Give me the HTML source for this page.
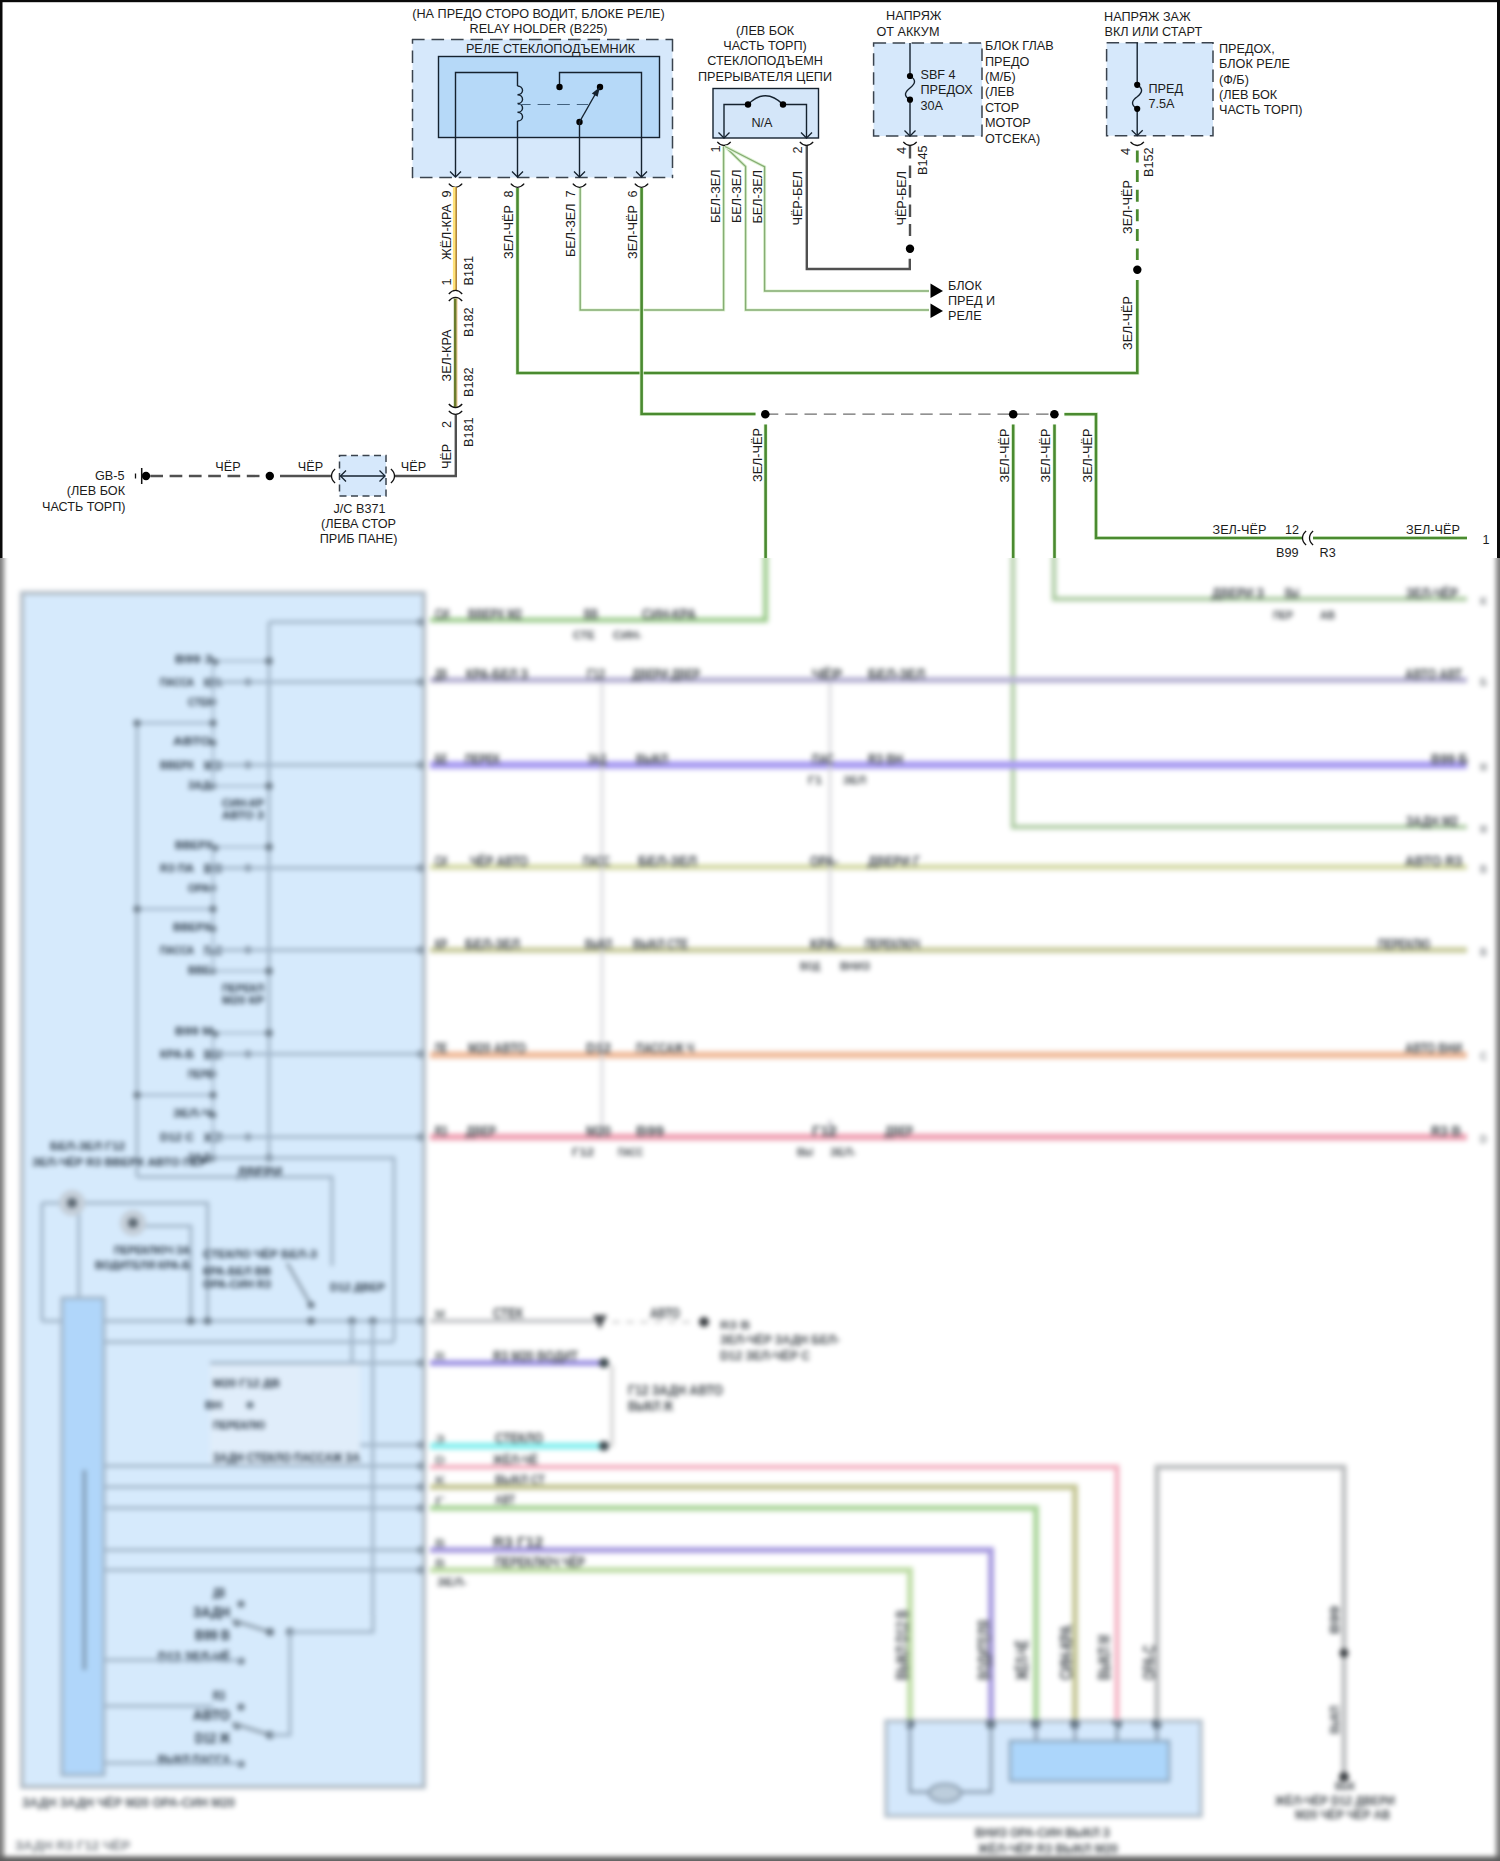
<!DOCTYPE html>
<html><head><meta charset="utf-8">
<style>
html,body{margin:0;padding:0;background:#fff;width:1500px;height:1861px;overflow:hidden}
#top{position:absolute;left:0;top:0;width:1500px;height:558px;overflow:hidden}
#bot{position:absolute;left:0;top:558px;width:1500px;height:1303px;overflow:hidden}
#bot svg{position:absolute;left:-20px;top:-40px;filter:blur(2.8px)}
text{font-family:"Liberation Sans", sans-serif}
</style></head><body>
<div id="bot"><svg width="1540" height="1363" viewBox="-20 518 1540 1363">
<rect x="-20" y="518" width="1540" height="1363" fill="#fff"/>
<rect x="-20" y="518" width="24" height="1363" fill="#7c7c7c"/>
<rect x="1496" y="518" width="30" height="1363" fill="#7c7c7c"/>
<rect x="-20" y="1856.5" width="1540" height="30" fill="#5c5c5c"/>
<rect x="22" y="593" width="402" height="1194" fill="#d6eafc" stroke="#b0bac4" stroke-width="4"/>
<path d="M269,622 V1158" stroke="#9fb3c6" stroke-width="3" fill="none" />
<path d="M269,622 H423" stroke="#9fb3c6" stroke-width="3" fill="none" />
<path d="M137,723 V1177" stroke="#9fb3c6" stroke-width="3" fill="none" />
<text x="175" y="663.0" font-size="11.6" font-weight="bold" fill="#2a3846" textLength="38" lengthAdjust="spacingAndGlyphs">B99 З</text>
<path d="M213,661 H269" stroke="#9fb3c6" stroke-width="2" fill="none" />
<circle cx="215" cy="662" r="3.4" fill="#6a7a88"/>
<circle cx="269" cy="661" r="3.8" fill="#6a7a88"/>
<text x="160" y="686.0" font-size="11.6" font-weight="bold" fill="#2a3846" textLength="34" lengthAdjust="spacingAndGlyphs">ПАССА</text>
<text x="204" y="686.5" font-size="13.0" font-weight="bold" fill="#2a3846" textLength="18" lengthAdjust="spacingAndGlyphs">КРА</text>
<circle cx="248" cy="682" r="3.4" fill="#6a7a88"/>
<path d="M213,682 H423" stroke="#9fb3c6" stroke-width="3" fill="none" />
<text x="188" y="706.0" font-size="11.6" font-weight="bold" fill="#2a3846" textLength="25" lengthAdjust="spacingAndGlyphs">СТЕК</text>
<circle cx="213" cy="702" r="3.4" fill="#6a7a88"/>
<path d="M213,662 V743" stroke="#9fb3c6" stroke-width="2" fill="none" />
<path d="M137,723 H213" stroke="#9fb3c6" stroke-width="2.5" fill="none" />
<circle cx="137" cy="723" r="3.6" fill="#6a7a88"/>
<circle cx="213" cy="723" r="3.6" fill="#6a7a88"/>
<text x="173" y="745.0" font-size="11.6" font-weight="bold" fill="#2a3846" textLength="38" lengthAdjust="spacingAndGlyphs">АВТО</text>
<circle cx="213" cy="743" r="3.4" fill="#6a7a88"/>
<text x="160" y="769.0" font-size="11.6" font-weight="bold" fill="#2a3846" textLength="34" lengthAdjust="spacingAndGlyphs">ВВЕРХ</text>
<text x="204" y="769.5" font-size="13.0" font-weight="bold" fill="#2a3846" textLength="18" lengthAdjust="spacingAndGlyphs">М20</text>
<circle cx="248" cy="765" r="3.4" fill="#6a7a88"/>
<path d="M213,765 H423" stroke="#9fb3c6" stroke-width="3" fill="none" />
<text x="188" y="789.0" font-size="11.6" font-weight="bold" fill="#2a3846" textLength="22" lengthAdjust="spacingAndGlyphs">ЗАД</text>
<circle cx="213" cy="786" r="3.4" fill="#6a7a88"/>
<path d="M213,786 H269" stroke="#9fb3c6" stroke-width="2" fill="none" />
<circle cx="269" cy="786" r="3.8" fill="#6a7a88"/>
<path d="M213,745 V786" stroke="#9fb3c6" stroke-width="2" fill="none" />
<text x="222" y="807.0" font-size="11.6" font-weight="bold" fill="#2a3846" textLength="42" lengthAdjust="spacingAndGlyphs">СИН-КР</text>
<text x="222" y="819.0" font-size="11.6" font-weight="bold" fill="#2a3846" textLength="42" lengthAdjust="spacingAndGlyphs">АВТО З</text>
<circle cx="421" cy="682" r="4" fill="#8d9dab"/>
<circle cx="421" cy="765" r="4" fill="#8d9dab"/>
<text x="175" y="849.0" font-size="11.6" font-weight="bold" fill="#2a3846" textLength="38" lengthAdjust="spacingAndGlyphs">ВВЕРХ</text>
<path d="M213,847 H269" stroke="#9fb3c6" stroke-width="2" fill="none" />
<circle cx="215" cy="848" r="3.4" fill="#6a7a88"/>
<circle cx="269" cy="847" r="3.8" fill="#6a7a88"/>
<text x="160" y="872.0" font-size="11.6" font-weight="bold" fill="#2a3846" textLength="34" lengthAdjust="spacingAndGlyphs">R3 ПА</text>
<text x="204" y="872.5" font-size="13.0" font-weight="bold" fill="#2a3846" textLength="18" lengthAdjust="spacingAndGlyphs">B99</text>
<circle cx="248" cy="868" r="3.4" fill="#6a7a88"/>
<path d="M213,868 H423" stroke="#9fb3c6" stroke-width="3" fill="none" />
<text x="188" y="892.0" font-size="11.6" font-weight="bold" fill="#2a3846" textLength="25" lengthAdjust="spacingAndGlyphs">ОРА-</text>
<circle cx="213" cy="888" r="3.4" fill="#6a7a88"/>
<path d="M213,848 V929" stroke="#9fb3c6" stroke-width="2" fill="none" />
<path d="M137,909 H213" stroke="#9fb3c6" stroke-width="2.5" fill="none" />
<circle cx="137" cy="909" r="3.6" fill="#6a7a88"/>
<circle cx="213" cy="909" r="3.6" fill="#6a7a88"/>
<text x="173" y="931.0" font-size="11.6" font-weight="bold" fill="#2a3846" textLength="38" lengthAdjust="spacingAndGlyphs">ВВЕРХ</text>
<circle cx="213" cy="929" r="3.4" fill="#6a7a88"/>
<text x="160" y="954.0" font-size="11.6" font-weight="bold" fill="#2a3846" textLength="34" lengthAdjust="spacingAndGlyphs">ПАССА</text>
<text x="204" y="954.5" font-size="13.0" font-weight="bold" fill="#2a3846" textLength="18" lengthAdjust="spacingAndGlyphs">ПАС</text>
<circle cx="248" cy="950" r="3.4" fill="#6a7a88"/>
<path d="M213,950 H423" stroke="#9fb3c6" stroke-width="3" fill="none" />
<text x="188" y="974.0" font-size="11.6" font-weight="bold" fill="#2a3846" textLength="22" lengthAdjust="spacingAndGlyphs">ВВЕ</text>
<circle cx="213" cy="971" r="3.4" fill="#6a7a88"/>
<path d="M213,971 H269" stroke="#9fb3c6" stroke-width="2" fill="none" />
<circle cx="269" cy="971" r="3.8" fill="#6a7a88"/>
<path d="M213,930 V971" stroke="#9fb3c6" stroke-width="2" fill="none" />
<text x="222" y="992.0" font-size="11.6" font-weight="bold" fill="#2a3846" textLength="42" lengthAdjust="spacingAndGlyphs">ПЕРЕКЛ</text>
<text x="222" y="1004.0" font-size="11.6" font-weight="bold" fill="#2a3846" textLength="42" lengthAdjust="spacingAndGlyphs">М20 КР</text>
<circle cx="421" cy="868" r="4" fill="#8d9dab"/>
<circle cx="421" cy="950" r="4" fill="#8d9dab"/>
<text x="175" y="1035.0" font-size="11.6" font-weight="bold" fill="#2a3846" textLength="38" lengthAdjust="spacingAndGlyphs">B99 М</text>
<path d="M213,1033 H269" stroke="#9fb3c6" stroke-width="2" fill="none" />
<circle cx="215" cy="1034" r="3.4" fill="#6a7a88"/>
<circle cx="269" cy="1033" r="3.8" fill="#6a7a88"/>
<text x="160" y="1058.0" font-size="11.6" font-weight="bold" fill="#2a3846" textLength="34" lengthAdjust="spacingAndGlyphs">КРА-Б</text>
<text x="204" y="1058.5" font-size="13.0" font-weight="bold" fill="#2a3846" textLength="18" lengthAdjust="spacingAndGlyphs">ВНИ</text>
<circle cx="248" cy="1054" r="3.4" fill="#6a7a88"/>
<path d="M213,1054 H423" stroke="#9fb3c6" stroke-width="3" fill="none" />
<text x="188" y="1078.0" font-size="11.6" font-weight="bold" fill="#2a3846" textLength="25" lengthAdjust="spacingAndGlyphs">ПЕРЕ</text>
<circle cx="213" cy="1074" r="3.4" fill="#6a7a88"/>
<path d="M213,1034 V1115" stroke="#9fb3c6" stroke-width="2" fill="none" />
<path d="M137,1095 H213" stroke="#9fb3c6" stroke-width="2.5" fill="none" />
<circle cx="137" cy="1095" r="3.6" fill="#6a7a88"/>
<circle cx="213" cy="1095" r="3.6" fill="#6a7a88"/>
<text x="173" y="1117.0" font-size="11.6" font-weight="bold" fill="#2a3846" textLength="38" lengthAdjust="spacingAndGlyphs">ЗЕЛ-Ч</text>
<circle cx="213" cy="1115" r="3.4" fill="#6a7a88"/>
<text x="160" y="1141.0" font-size="11.6" font-weight="bold" fill="#2a3846" textLength="34" lengthAdjust="spacingAndGlyphs">D12 С</text>
<text x="204" y="1141.5" font-size="13.0" font-weight="bold" fill="#2a3846" textLength="18" lengthAdjust="spacingAndGlyphs">ЖЁЛ</text>
<circle cx="248" cy="1137" r="3.4" fill="#6a7a88"/>
<path d="M213,1137 H423" stroke="#9fb3c6" stroke-width="3" fill="none" />
<text x="188" y="1161.0" font-size="11.6" font-weight="bold" fill="#2a3846" textLength="22" lengthAdjust="spacingAndGlyphs">ЗАД</text>
<circle cx="213" cy="1158" r="3.4" fill="#6a7a88"/>
<path d="M213,1158 H269" stroke="#9fb3c6" stroke-width="2" fill="none" />
<circle cx="269" cy="1158" r="3.8" fill="#6a7a88"/>
<path d="M213,1117 V1158" stroke="#9fb3c6" stroke-width="2" fill="none" />
<circle cx="421" cy="1054" r="4" fill="#8d9dab"/>
<circle cx="421" cy="1137" r="4" fill="#8d9dab"/>
<circle cx="421" cy="622" r="4" fill="#8d9dab"/>
<text x="50" y="1149.5" font-size="10.2" font-weight="bold" fill="#2a3846" textLength="75" lengthAdjust="spacingAndGlyphs">БЕЛ-ЗЕЛ Г12</text>
<text x="32" y="1165.5" font-size="10.2" font-weight="bold" fill="#2a3846" textLength="175" lengthAdjust="spacingAndGlyphs">ЗЕЛ-ЧЁР R3 ВВЕРХ АВТО ПЕР</text>
<path d="M213,1158 H394 V1341" stroke="#9fb3c6" stroke-width="3" fill="none" />
<text x="237" y="1177.0" font-size="14.5" font-weight="bold" fill="#2a3846" textLength="45" lengthAdjust="spacingAndGlyphs">ДВЕРИ</text>
<path d="M137,1177 H332 V1266" stroke="#9fb3c6" stroke-width="3" fill="none" />
<path d="M42,1203 H207.6 V1321" stroke="#9fb3c6" stroke-width="3" fill="none" />
<path d="M133,1226 H190.8 V1321" stroke="#9fb3c6" stroke-width="3" fill="none" />
<path d="M42,1203 V1321" stroke="#9fb3c6" stroke-width="3" fill="none" />
<path d="M78.8,1203 V1298" stroke="#9fb3c6" stroke-width="3" fill="none" />
<circle cx="72" cy="1203" r="13" fill="#c4ced8"/>
<circle cx="72" cy="1203" r="5" fill="#5a6670"/>
<circle cx="133" cy="1223" r="13" fill="#c4ced8"/>
<circle cx="133" cy="1223" r="5" fill="#5a6670"/>
<text x="114" y="1254.0" font-size="11.6" font-weight="bold" fill="#2a3846" textLength="76" lengthAdjust="spacingAndGlyphs">ПЕРЕКЛЮЧ ЗА</text>
<text x="95" y="1269.0" font-size="11.6" font-weight="bold" fill="#2a3846" textLength="95" lengthAdjust="spacingAndGlyphs">ВОДИТЕЛЯ КРА-Б</text>
<text x="203" y="1258.0" font-size="11.6" font-weight="bold" fill="#2a3846" textLength="114" lengthAdjust="spacingAndGlyphs">СТЕКЛО ЧЁР БЕЛ-З</text>
<text x="203" y="1275.0" font-size="11.6" font-weight="bold" fill="#2a3846" textLength="68" lengthAdjust="spacingAndGlyphs">КРА-БЕЛ ВВ</text>
<text x="203" y="1288.0" font-size="11.6" font-weight="bold" fill="#2a3846" textLength="68" lengthAdjust="spacingAndGlyphs">ОРА-СИН R3</text>
<path d="M287,1263 L311,1305" stroke="#7a8a98" stroke-width="2.5" fill="none" />
<circle cx="311" cy="1305" r="3.6" fill="#6a7a88"/>
<text x="330" y="1291.0" font-size="11.6" font-weight="bold" fill="#2a3846" textLength="55" lengthAdjust="spacingAndGlyphs">D12 ДВЕР</text>
<path d="M42,1321 H423" stroke="#9fb3c6" stroke-width="3" fill="none" />
<circle cx="190.8" cy="1321" r="3.8" fill="#6a7a88"/>
<circle cx="207.6" cy="1321" r="3.8" fill="#6a7a88"/>
<circle cx="311" cy="1321" r="3.8" fill="#6a7a88"/>
<circle cx="352" cy="1321" r="3.8" fill="#6a7a88"/>
<circle cx="372.8" cy="1321" r="3.8" fill="#6a7a88"/>
<path d="M352,1321 V1404 H210" stroke="#9fb3c6" stroke-width="3" fill="none" />
<path d="M372.8,1321 V1615" stroke="#9fb3c6" stroke-width="3" fill="none" />
<path d="M104,1342 H394" stroke="#9fb3c6" stroke-width="3" fill="none" />
<rect x="62" y="1298" width="42" height="477" fill="#b0d6fa" stroke="#9fb2c4" stroke-width="3"/>
<path d="M84.4,1470 V1670" stroke="#7e98b0" stroke-width="3.5" fill="none" />
<rect x="210" y="1363" width="150" height="102" fill="#e0edfa"/>
<path d="M210,1363 H423" stroke="#9fb3c6" stroke-width="3" fill="none" />
<text x="213" y="1387.0" font-size="11.6" font-weight="bold" fill="#2a3846" textLength="67" lengthAdjust="spacingAndGlyphs">М20 Г12 ДВ</text>
<text x="205" y="1409.0" font-size="11.6" font-weight="bold" fill="#2a3846" textLength="17" lengthAdjust="spacingAndGlyphs">ВН</text>
<circle cx="250" cy="1405" r="3.6" fill="#6a7a88"/>
<text x="213" y="1429.0" font-size="11.6" font-weight="bold" fill="#2a3846" textLength="52" lengthAdjust="spacingAndGlyphs">ПЕРЕКЛЮ</text>
<text x="213" y="1461.5" font-size="13.0" font-weight="bold" fill="#2a3846" textLength="147" lengthAdjust="spacingAndGlyphs">ЗАДН СТЕКЛО ПАССАЖ ЗА</text>
<path d="M360,1445 H423" stroke="#9fb3c6" stroke-width="3" fill="none" />
<path d="M104,1466 H423" stroke="#9fb3c6" stroke-width="3" fill="none" />
<path d="M104,1487 H423" stroke="#9fb3c6" stroke-width="3" fill="none" />
<path d="M104,1508 H423" stroke="#9fb3c6" stroke-width="3" fill="none" />
<path d="M104,1550 H423" stroke="#9fb3c6" stroke-width="3" fill="none" />
<path d="M104,1570 H423" stroke="#9fb3c6" stroke-width="3" fill="none" />
<circle cx="421" cy="1363" r="4" fill="#8d9dab"/>
<circle cx="421" cy="1445" r="4" fill="#8d9dab"/>
<circle cx="421" cy="1466" r="4" fill="#8d9dab"/>
<circle cx="421" cy="1487" r="4" fill="#8d9dab"/>
<circle cx="421" cy="1508" r="4" fill="#8d9dab"/>
<circle cx="421" cy="1550" r="4" fill="#8d9dab"/>
<circle cx="421" cy="1570" r="4" fill="#8d9dab"/>
<circle cx="421" cy="1321" r="4" fill="#8d9dab"/>
<text x="213" y="1596.5" font-size="13.0" font-weight="bold" fill="#2a3846" textLength="12" lengthAdjust="spacingAndGlyphs">ДВ</text>
<circle cx="241" cy="1604" r="3.6" fill="#6a7a88"/>
<text x="193" y="1617.0" font-size="14.5" font-weight="bold" fill="#2a3846" textLength="37" lengthAdjust="spacingAndGlyphs">ЗАДН</text>
<text x="195" y="1640.0" font-size="14.5" font-weight="bold" fill="#2a3846" textLength="35" lengthAdjust="spacingAndGlyphs">B99 В</text>
<circle cx="237" cy="1623" r="3.6" fill="#6a7a88"/>
<text x="158" y="1662.0" font-size="14.5" font-weight="bold" fill="#2a3846" textLength="72" lengthAdjust="spacingAndGlyphs">D12 ЗЕЛ-ЧЁ</text>
<circle cx="241" cy="1661" r="3.6" fill="#6a7a88"/>
<path d="M232,1620 L270,1632" stroke="#8a9aa8" stroke-width="3" fill="none" />
<text x="213" y="1699.5" font-size="13.0" font-weight="bold" fill="#2a3846" textLength="12" lengthAdjust="spacingAndGlyphs">R3</text>
<circle cx="241" cy="1707" r="3.6" fill="#6a7a88"/>
<text x="193" y="1720.0" font-size="14.5" font-weight="bold" fill="#2a3846" textLength="37" lengthAdjust="spacingAndGlyphs">АВТО</text>
<text x="195" y="1743.0" font-size="14.5" font-weight="bold" fill="#2a3846" textLength="35" lengthAdjust="spacingAndGlyphs">D12 Ж</text>
<circle cx="237" cy="1726" r="3.6" fill="#6a7a88"/>
<text x="158" y="1765.0" font-size="14.5" font-weight="bold" fill="#2a3846" textLength="72" lengthAdjust="spacingAndGlyphs">ВЫКЛ ПАССА</text>
<circle cx="241" cy="1764" r="3.6" fill="#6a7a88"/>
<path d="M232,1723 L270,1735" stroke="#8a9aa8" stroke-width="3" fill="none" />
<path d="M104,1660 H241" stroke="#9fb3c6" stroke-width="3" fill="none" />
<path d="M104,1706 H213" stroke="#9fb3c6" stroke-width="3" fill="none" />
<path d="M104,1763 H241" stroke="#9fb3c6" stroke-width="3" fill="none" />
<circle cx="270" cy="1632" r="4" fill="#6a7a88"/>
<circle cx="290" cy="1632" r="4" fill="#6a7a88"/>
<circle cx="270" cy="1735" r="4" fill="#6a7a88"/>
<path d="M290,1632 H373 V1615" stroke="#9fb3c6" stroke-width="3" fill="none" />
<path d="M290,1632 V1735 H270" stroke="#9fb3c6" stroke-width="3" fill="none" />
<text x="22" y="1806.5" font-size="13.0" font-weight="bold" fill="#4a525a" textLength="213" lengthAdjust="spacingAndGlyphs">ЗАДН ЗАДН ЧЁР М20 ОРА-СИН М20</text>
<text x="15" y="1849.5" font-size="13.0" font-weight="bold" fill="#7c8288" textLength="115" lengthAdjust="spacingAndGlyphs">ЗАДН R3 Г12 ЧЁР</text>
<path d="M765.6,518 V620 H430" stroke="#9ccc8c" stroke-width="5" fill="none" />
<path d="M1054,518 V599 H1467" stroke="#aacaa0" stroke-width="4.5" fill="none" />
<path d="M1013,518 V827 H1467" stroke="#aecca4" stroke-width="4.5" fill="none" />
<path d="M430,680 H1467" stroke="#b8b4d4" stroke-width="6" fill="none" />
<path d="M430,765 H1467" stroke="#aa9ef2" stroke-width="8" fill="none" />
<path d="M430,867 H1467" stroke="#d6dbaa" stroke-width="6" fill="none" />
<path d="M430,950 H1467" stroke="#cacda0" stroke-width="6" fill="none" />
<path d="M430,1055 H1467" stroke="#f0bc9c" stroke-width="7" fill="none" />
<path d="M430,1137 H1467" stroke="#f0a4b6" stroke-width="7" fill="none" />
<path d="M602,683 V1137" stroke="#d2d2d8" stroke-width="2.5" fill="none" />
<path d="M830,683 V950" stroke="#d2d2d8" stroke-width="2.5" fill="none" />
<path d="M830,1120 V1137" stroke="#b8b8c0" stroke-width="2.5" fill="none" />
<text x="435" y="619.0" font-size="14.5" font-weight="bold" fill="#454b50" textLength="14" lengthAdjust="spacingAndGlyphs">СИ</text>
<text x="468" y="619.0" font-size="14.5" font-weight="bold" fill="#454b50" textLength="54" lengthAdjust="spacingAndGlyphs">ВВЕРХ М2</text>
<text x="584" y="619.0" font-size="14.5" font-weight="bold" fill="#454b50" textLength="14" lengthAdjust="spacingAndGlyphs">ВВ</text>
<text x="642" y="619.0" font-size="14.5" font-weight="bold" fill="#454b50" textLength="54" lengthAdjust="spacingAndGlyphs">СИН-КРА</text>
<text x="573" y="639.0" font-size="11.6" font-weight="bold" fill="#454b50" textLength="22" lengthAdjust="spacingAndGlyphs">СТЕ</text>
<text x="613" y="639.0" font-size="11.6" font-weight="bold" fill="#454b50" textLength="29" lengthAdjust="spacingAndGlyphs">СИН-</text>
<text x="435" y="679.0" font-size="14.5" font-weight="bold" fill="#454b50" textLength="12" lengthAdjust="spacingAndGlyphs">ДВ</text>
<text x="466" y="679.0" font-size="14.5" font-weight="bold" fill="#454b50" textLength="62" lengthAdjust="spacingAndGlyphs">КРА-БЕЛ З</text>
<text x="587" y="679.0" font-size="14.5" font-weight="bold" fill="#454b50" textLength="18" lengthAdjust="spacingAndGlyphs">Г12</text>
<text x="632" y="679.0" font-size="14.5" font-weight="bold" fill="#454b50" textLength="68" lengthAdjust="spacingAndGlyphs">ДВЕРИ ДВЕР</text>
<text x="812" y="679.0" font-size="14.5" font-weight="bold" fill="#454b50" textLength="30" lengthAdjust="spacingAndGlyphs">ЧЁР</text>
<text x="868" y="679.0" font-size="14.5" font-weight="bold" fill="#454b50" textLength="57" lengthAdjust="spacingAndGlyphs">БЕЛ-ЗЕЛ</text>
<text x="1405" y="679.0" font-size="14.5" font-weight="bold" fill="#454b50" textLength="57" lengthAdjust="spacingAndGlyphs">АВТО АВТ</text>
<text x="435" y="764.0" font-size="14.5" font-weight="bold" fill="#454b50" textLength="12" lengthAdjust="spacingAndGlyphs">БЕ</text>
<text x="465" y="764.0" font-size="14.5" font-weight="bold" fill="#454b50" textLength="35" lengthAdjust="spacingAndGlyphs">ПЕРЕК</text>
<text x="588" y="764.0" font-size="14.5" font-weight="bold" fill="#454b50" textLength="18" lengthAdjust="spacingAndGlyphs">ЗАД</text>
<text x="636" y="764.0" font-size="14.5" font-weight="bold" fill="#454b50" textLength="32" lengthAdjust="spacingAndGlyphs">ВЫКЛ</text>
<text x="812" y="764.0" font-size="14.5" font-weight="bold" fill="#454b50" textLength="22" lengthAdjust="spacingAndGlyphs">ПАС</text>
<text x="868" y="764.0" font-size="14.5" font-weight="bold" fill="#454b50" textLength="35" lengthAdjust="spacingAndGlyphs">R3 ВН</text>
<text x="1431" y="764.0" font-size="14.5" font-weight="bold" fill="#454b50" textLength="37" lengthAdjust="spacingAndGlyphs">B99 Б</text>
<text x="808" y="784.0" font-size="11.6" font-weight="bold" fill="#454b50" textLength="14" lengthAdjust="spacingAndGlyphs">Г1</text>
<text x="843" y="784.0" font-size="11.6" font-weight="bold" fill="#454b50" textLength="23" lengthAdjust="spacingAndGlyphs">ЗЕЛ</text>
<text x="435" y="866.0" font-size="14.5" font-weight="bold" fill="#454b50" textLength="12" lengthAdjust="spacingAndGlyphs">СИ</text>
<text x="470" y="866.0" font-size="14.5" font-weight="bold" fill="#454b50" textLength="58" lengthAdjust="spacingAndGlyphs">ЧЁР АВТО</text>
<text x="583" y="866.0" font-size="14.5" font-weight="bold" fill="#454b50" textLength="27" lengthAdjust="spacingAndGlyphs">ПАСС</text>
<text x="638" y="866.0" font-size="14.5" font-weight="bold" fill="#454b50" textLength="59" lengthAdjust="spacingAndGlyphs">БЕЛ-ЗЕЛ</text>
<text x="810" y="866.0" font-size="14.5" font-weight="bold" fill="#454b50" textLength="28" lengthAdjust="spacingAndGlyphs">ОРА-</text>
<text x="868" y="866.0" font-size="14.5" font-weight="bold" fill="#454b50" textLength="52" lengthAdjust="spacingAndGlyphs">ДВЕРИ Г</text>
<text x="1405" y="866.0" font-size="14.5" font-weight="bold" fill="#454b50" textLength="57" lengthAdjust="spacingAndGlyphs">АВТО R3</text>
<text x="435" y="949.0" font-size="14.5" font-weight="bold" fill="#454b50" textLength="12" lengthAdjust="spacingAndGlyphs">КР</text>
<text x="465" y="949.0" font-size="14.5" font-weight="bold" fill="#454b50" textLength="55" lengthAdjust="spacingAndGlyphs">БЕЛ-ЗЕЛ</text>
<text x="585" y="949.0" font-size="14.5" font-weight="bold" fill="#454b50" textLength="27" lengthAdjust="spacingAndGlyphs">ВЫКЛ</text>
<text x="633" y="949.0" font-size="14.5" font-weight="bold" fill="#454b50" textLength="55" lengthAdjust="spacingAndGlyphs">ВЫКЛ СТЕ</text>
<text x="810" y="949.0" font-size="14.5" font-weight="bold" fill="#454b50" textLength="30" lengthAdjust="spacingAndGlyphs">КРА-</text>
<text x="865" y="949.0" font-size="14.5" font-weight="bold" fill="#454b50" textLength="55" lengthAdjust="spacingAndGlyphs">ПЕРЕКЛЮЧ</text>
<text x="1378" y="949.0" font-size="14.5" font-weight="bold" fill="#454b50" textLength="52" lengthAdjust="spacingAndGlyphs">ПЕРЕКЛЮ</text>
<text x="800" y="970.0" font-size="11.6" font-weight="bold" fill="#454b50" textLength="20" lengthAdjust="spacingAndGlyphs">ВОД</text>
<text x="840" y="970.0" font-size="11.6" font-weight="bold" fill="#454b50" textLength="30" lengthAdjust="spacingAndGlyphs">ВНИЗ</text>
<text x="435" y="1053.0" font-size="14.5" font-weight="bold" fill="#454b50" textLength="12" lengthAdjust="spacingAndGlyphs">ПЕ</text>
<text x="468" y="1053.0" font-size="14.5" font-weight="bold" fill="#454b50" textLength="58" lengthAdjust="spacingAndGlyphs">М20 АВТО</text>
<text x="586" y="1053.0" font-size="14.5" font-weight="bold" fill="#454b50" textLength="25" lengthAdjust="spacingAndGlyphs">D12</text>
<text x="636" y="1053.0" font-size="14.5" font-weight="bold" fill="#454b50" textLength="58" lengthAdjust="spacingAndGlyphs">ПАССАЖ Ч</text>
<text x="1405" y="1053.0" font-size="14.5" font-weight="bold" fill="#454b50" textLength="57" lengthAdjust="spacingAndGlyphs">АВТО ВНИ</text>
<text x="435" y="1136.0" font-size="14.5" font-weight="bold" fill="#454b50" textLength="12" lengthAdjust="spacingAndGlyphs">R3</text>
<text x="466" y="1136.0" font-size="14.5" font-weight="bold" fill="#454b50" textLength="30" lengthAdjust="spacingAndGlyphs">ДВЕР</text>
<text x="586" y="1136.0" font-size="14.5" font-weight="bold" fill="#454b50" textLength="25" lengthAdjust="spacingAndGlyphs">М20</text>
<text x="636" y="1136.0" font-size="14.5" font-weight="bold" fill="#454b50" textLength="28" lengthAdjust="spacingAndGlyphs">B99</text>
<text x="812" y="1136.0" font-size="14.5" font-weight="bold" fill="#454b50" textLength="25" lengthAdjust="spacingAndGlyphs">Г12</text>
<text x="885" y="1136.0" font-size="14.5" font-weight="bold" fill="#454b50" textLength="28" lengthAdjust="spacingAndGlyphs">ДВЕР</text>
<text x="1431" y="1136.0" font-size="14.5" font-weight="bold" fill="#454b50" textLength="30" lengthAdjust="spacingAndGlyphs">R3 В</text>
<text x="572" y="1156.0" font-size="11.6" font-weight="bold" fill="#454b50" textLength="22" lengthAdjust="spacingAndGlyphs">Г12</text>
<text x="618" y="1156.0" font-size="11.6" font-weight="bold" fill="#454b50" textLength="25" lengthAdjust="spacingAndGlyphs">ПАСС</text>
<text x="797" y="1156.0" font-size="11.6" font-weight="bold" fill="#454b50" textLength="16" lengthAdjust="spacingAndGlyphs">ВЫ</text>
<text x="830" y="1156.0" font-size="11.6" font-weight="bold" fill="#454b50" textLength="26" lengthAdjust="spacingAndGlyphs">ЗЕЛ-</text>
<text x="1212" y="598.0" font-size="14.5" font-weight="bold" fill="#454b50" textLength="52" lengthAdjust="spacingAndGlyphs">ДВЕРИ З</text>
<text x="1285" y="598.0" font-size="14.5" font-weight="bold" fill="#454b50" textLength="14" lengthAdjust="spacingAndGlyphs">ВЫ</text>
<text x="1406" y="598.0" font-size="14.5" font-weight="bold" fill="#454b50" textLength="52" lengthAdjust="spacingAndGlyphs">ЗЕЛ-ЧЁР</text>
<text x="1273" y="619.0" font-size="11.6" font-weight="bold" fill="#454b50" textLength="20" lengthAdjust="spacingAndGlyphs">ПЕР</text>
<text x="1320" y="619.0" font-size="11.6" font-weight="bold" fill="#454b50" textLength="15" lengthAdjust="spacingAndGlyphs">АВ</text>
<text x="1406" y="826.0" font-size="14.5" font-weight="bold" fill="#454b50" textLength="52" lengthAdjust="spacingAndGlyphs">ЗАДН М2</text>
<text x="1480" y="605.0" font-size="11.6" font-weight="bold" fill="#8a8e92" textLength="7" lengthAdjust="spacingAndGlyphs">К</text>
<text x="1480" y="686.0" font-size="11.6" font-weight="bold" fill="#8a8e92" textLength="7" lengthAdjust="spacingAndGlyphs">Б</text>
<text x="1480" y="771.0" font-size="11.6" font-weight="bold" fill="#8a8e92" textLength="7" lengthAdjust="spacingAndGlyphs">М</text>
<text x="1480" y="833.0" font-size="11.6" font-weight="bold" fill="#8a8e92" textLength="7" lengthAdjust="spacingAndGlyphs">М</text>
<text x="1480" y="873.0" font-size="11.6" font-weight="bold" fill="#8a8e92" textLength="7" lengthAdjust="spacingAndGlyphs">В</text>
<text x="1480" y="956.0" font-size="11.6" font-weight="bold" fill="#8a8e92" textLength="7" lengthAdjust="spacingAndGlyphs">В</text>
<text x="1480" y="1060.0" font-size="11.6" font-weight="bold" fill="#8a8e92" textLength="7" lengthAdjust="spacingAndGlyphs">С</text>
<text x="1480" y="1143.0" font-size="11.6" font-weight="bold" fill="#8a8e92" textLength="7" lengthAdjust="spacingAndGlyphs">D</text>
<path d="M430,1321 H600" stroke="#bfc1c4" stroke-width="4" fill="none" />
<path d="M593,1315 L607,1315 L600,1329 Z" fill="#4a4e52"/>
<path d="M612,1322 H690" stroke="#c8c8c8" stroke-width="2" fill="none" stroke-dasharray="8 6"/>
<circle cx="704" cy="1322" r="5" fill="#3a3e42"/>
<text x="493" y="1318.0" font-size="14.5" font-weight="bold" fill="#454b50" textLength="30" lengthAdjust="spacingAndGlyphs">СТЕК</text>
<text x="650" y="1318.0" font-size="14.5" font-weight="bold" fill="#454b50" textLength="30" lengthAdjust="spacingAndGlyphs">АВТО</text>
<text x="720" y="1329.0" font-size="11.6" font-weight="bold" fill="#454b50" textLength="30" lengthAdjust="spacingAndGlyphs">R3 В</text>
<text x="720" y="1343.5" font-size="13.0" font-weight="bold" fill="#454b50" textLength="120" lengthAdjust="spacingAndGlyphs">ЗЕЛ-ЧЁР ЗАДН БЕЛ-</text>
<text x="720" y="1359.5" font-size="13.0" font-weight="bold" fill="#454b50" textLength="90" lengthAdjust="spacingAndGlyphs">D12 ЗЕЛ-ЧЁР С</text>
<path d="M430,1363 H604" stroke="#a096e4" stroke-width="6" fill="none" />
<circle cx="604" cy="1363" r="5" fill="#3d4a50"/>
<text x="493" y="1361.0" font-size="14.5" font-weight="bold" fill="#454b50" textLength="85" lengthAdjust="spacingAndGlyphs">R3 М20 ВОДИТ</text>
<path d="M612,1365 V1447" stroke="#cccccc" stroke-width="3" fill="none" />
<text x="628" y="1395.0" font-size="14.5" font-weight="bold" fill="#454b50" textLength="95" lengthAdjust="spacingAndGlyphs">Г12 ЗАДН АВТО</text>
<text x="628" y="1411.0" font-size="14.5" font-weight="bold" fill="#454b50" textLength="45" lengthAdjust="spacingAndGlyphs">ВЫКЛ Ж</text>
<path d="M430,1446 H604" stroke="#8cf0f0" stroke-width="7" fill="none" />
<circle cx="604" cy="1446" r="5" fill="#3d4a50"/>
<text x="495" y="1443.0" font-size="14.5" font-weight="bold" fill="#454b50" textLength="48" lengthAdjust="spacingAndGlyphs">СТЕКЛО</text>
<path d="M430,1467 H1117 V1722" stroke="#f4b2c2" stroke-width="5" fill="none" />
<path d="M430,1487 H1075 V1722" stroke="#c6c898" stroke-width="6" fill="none" />
<path d="M430,1508 H1036 V1722" stroke="#acd69c" stroke-width="6" fill="none" />
<path d="M430,1550 H991 V1722" stroke="#a89ce0" stroke-width="6" fill="none" />
<path d="M430,1570 H910 V1722" stroke="#c0dea8" stroke-width="6" fill="none" />
<text x="493" y="1463.5" font-size="13.0" font-weight="bold" fill="#454b50" textLength="45" lengthAdjust="spacingAndGlyphs">ЖЁЛ-ЧЁ</text>
<text x="495" y="1483.5" font-size="13.0" font-weight="bold" fill="#454b50" textLength="50" lengthAdjust="spacingAndGlyphs">ВЫКЛ СТ</text>
<text x="495" y="1503.5" font-size="13.0" font-weight="bold" fill="#454b50" textLength="20" lengthAdjust="spacingAndGlyphs">АВТ</text>
<text x="493" y="1547.0" font-size="14.5" font-weight="bold" fill="#454b50" textLength="50" lengthAdjust="spacingAndGlyphs">R3 Г12</text>
<text x="495" y="1567.0" font-size="14.5" font-weight="bold" fill="#454b50" textLength="90" lengthAdjust="spacingAndGlyphs">ПЕРЕКЛЮЧ ЧЁР</text>
<text x="437" y="1586.0" font-size="11.6" font-weight="bold" fill="#454b50" textLength="30" lengthAdjust="spacingAndGlyphs">ЗЕЛ-</text>
<text x="435" y="1443.0" font-size="11.6" font-weight="bold" fill="#6a7274" textLength="10" lengthAdjust="spacingAndGlyphs">З</text>
<text x="435" y="1464.0" font-size="11.6" font-weight="bold" fill="#6a7274" textLength="10" lengthAdjust="spacingAndGlyphs">D</text>
<text x="435" y="1484.0" font-size="11.6" font-weight="bold" fill="#6a7274" textLength="10" lengthAdjust="spacingAndGlyphs">К</text>
<text x="435" y="1505.0" font-size="11.6" font-weight="bold" fill="#6a7274" textLength="10" lengthAdjust="spacingAndGlyphs">Г</text>
<text x="435" y="1547.0" font-size="11.6" font-weight="bold" fill="#6a7274" textLength="10" lengthAdjust="spacingAndGlyphs">В</text>
<text x="435" y="1567.0" font-size="11.6" font-weight="bold" fill="#6a7274" textLength="10" lengthAdjust="spacingAndGlyphs">B</text>
<text x="435" y="1318.0" font-size="11.6" font-weight="bold" fill="#6a7274" textLength="10" lengthAdjust="spacingAndGlyphs">М</text>
<text x="435" y="1360.0" font-size="11.6" font-weight="bold" fill="#6a7274" textLength="10" lengthAdjust="spacingAndGlyphs">R</text>
<path d="M1157,1722 V1467 H1344 V1776" stroke="#babcbe" stroke-width="5" fill="none" />
<circle cx="1344" cy="1653" r="4.5" fill="#3a3e42"/>
<circle cx="1344" cy="1777" r="5" fill="#3a3e42"/>
<text transform="translate(1339,1634.0) rotate(-90)" font-size="13.0" font-weight="bold" fill="#454b50" textLength="28" lengthAdjust="spacingAndGlyphs">B99</text>
<text transform="translate(1339,1734.0) rotate(-90)" font-size="13.0" font-weight="bold" fill="#454b50" textLength="28" lengthAdjust="spacingAndGlyphs">ВЫКЛ</text>
<text x="1275" y="1804.5" font-size="13.0" font-weight="bold" fill="#454b50" textLength="120" lengthAdjust="spacingAndGlyphs">ЖЁЛ-ЧЁР D12 ДВЕРИ</text>
<text x="1295" y="1818.5" font-size="13.0" font-weight="bold" fill="#454b50" textLength="95" lengthAdjust="spacingAndGlyphs">М20 ЧЁР ЧЁР АВ</text>
<text x="1335" y="1790.0" font-size="11.6" font-weight="bold" fill="#454b50" textLength="20" lengthAdjust="spacingAndGlyphs">ВЫК</text>
<text transform="translate(908,1680.0) rotate(-90)" font-size="15.9" font-weight="bold" fill="#454b50" textLength="70" lengthAdjust="spacingAndGlyphs">ВЫКЛ D12 B</text>
<text transform="translate(990,1680.0) rotate(-90)" font-size="15.9" font-weight="bold" fill="#454b50" textLength="60" lengthAdjust="spacingAndGlyphs">ВОДИТЕЛЯ</text>
<text transform="translate(1028,1680.0) rotate(-90)" font-size="15.9" font-weight="bold" fill="#454b50" textLength="40" lengthAdjust="spacingAndGlyphs">ЖЁЛ-ЧЁ</text>
<text transform="translate(1072,1680.0) rotate(-90)" font-size="15.9" font-weight="bold" fill="#454b50" textLength="55" lengthAdjust="spacingAndGlyphs">СИН-КРА</text>
<text transform="translate(1110,1680.0) rotate(-90)" font-size="15.9" font-weight="bold" fill="#454b50" textLength="45" lengthAdjust="spacingAndGlyphs">ВЫКЛ М</text>
<text transform="translate(1155,1680.0) rotate(-90)" font-size="15.9" font-weight="bold" fill="#454b50" textLength="35" lengthAdjust="spacingAndGlyphs">ОРА-С</text>
<rect x="886" y="1721" width="315" height="95" fill="#d4e8fc" stroke="#b0bcc8" stroke-width="3.5"/>
<rect x="1010" y="1741" width="159" height="40" fill="#acd6fb" stroke="#8aa2b8" stroke-width="2.5"/>
<path d="M910,1722 V1792 H930 M960,1792 H991 V1722" stroke="#8a9cae" stroke-width="3" fill="none" />
<ellipse cx="945" cy="1793" rx="16" ry="9" fill="#bccddc" stroke="#8a9cae" stroke-width="2.5"/>
<path d="M1036,1722 V1741" stroke="#8a9cae" stroke-width="3" fill="none" />
<path d="M1075,1722 V1741" stroke="#8a9cae" stroke-width="3" fill="none" />
<path d="M1117,1722 V1741" stroke="#8a9cae" stroke-width="3" fill="none" />
<path d="M1157,1722 V1741" stroke="#8a9cae" stroke-width="3" fill="none" />
<text x="905" y="1727.5" font-size="10.2" font-weight="bold" fill="#3a4a58" textLength="10" lengthAdjust="spacingAndGlyphs">З</text>
<text x="986" y="1727.5" font-size="10.2" font-weight="bold" fill="#3a4a58" textLength="10" lengthAdjust="spacingAndGlyphs">В</text>
<text x="1031" y="1727.5" font-size="10.2" font-weight="bold" fill="#3a4a58" textLength="10" lengthAdjust="spacingAndGlyphs">R</text>
<text x="1070" y="1727.5" font-size="10.2" font-weight="bold" fill="#3a4a58" textLength="10" lengthAdjust="spacingAndGlyphs">B</text>
<text x="1112" y="1727.5" font-size="10.2" font-weight="bold" fill="#3a4a58" textLength="10" lengthAdjust="spacingAndGlyphs">Ч</text>
<text x="1152" y="1727.5" font-size="10.2" font-weight="bold" fill="#3a4a58" textLength="10" lengthAdjust="spacingAndGlyphs">Б</text>
<text x="975" y="1836.5" font-size="13.0" font-weight="bold" fill="#454b50" textLength="135" lengthAdjust="spacingAndGlyphs">ВНИЗ ОРА-СИН ВЫКЛ З</text>
<text x="978" y="1852.5" font-size="13.0" font-weight="bold" fill="#454b50" textLength="140" lengthAdjust="spacingAndGlyphs">ЖЁЛ-ЧЁР R3 ВЫКЛ М20</text>
</svg></div>
<div id="top"><svg width="1500" height="558" viewBox="0 0 1500 558">
<rect x="0" y="0" width="1500" height="2.2" fill="#0a0a0a"/>
<rect x="0" y="0" width="2.5" height="558" fill="#0a0a0a"/>
<rect x="1497" y="0" width="3" height="558" fill="#0a0a0a"/>
<text x="538.5" y="18" text-anchor="middle" font-size="12.65" fill="#1c1c1c">(НА ПРЕДО СТОРО ВОДИТ, БЛОКЕ РЕЛЕ)</text>
<text x="538.5" y="33" text-anchor="middle" font-size="12.65" fill="#1c1c1c">RELAY HOLDER (B225)</text>
<rect x="412.5" y="39.5" width="260" height="138" fill="#d6e8fb"/>
<path d="M412,39.6 H673" stroke="#3a434e" stroke-width="1.5" fill="none" stroke-dasharray="12.6 6.9"/>
<path d="M412,177.5 H673" stroke="#3a434e" stroke-width="1.5" fill="none" stroke-dasharray="12.6 6.8" stroke-dashoffset="11.5"/>
<path d="M412.5,39 V178" stroke="#3a434e" stroke-width="1.5" fill="none" stroke-dasharray="12.6 6.8" stroke-dashoffset="7.9"/>
<path d="M672.5,39 V178" stroke="#3a434e" stroke-width="1.5" fill="none" stroke-dasharray="12.6 6.8"/>
<text x="550.5" y="52.5" text-anchor="middle" font-size="12.65" fill="#1c1c1c">РЕЛЕ СТЕКЛОПОДЪЕМНИК</text>
<rect x="438.5" y="56.5" width="221" height="81" fill="#b6d9f8" stroke="#15222f" stroke-width="1.4"/>
<path d="M455.5,176.5 V72.5 H517.5 V86" stroke="#15222f" stroke-width="1.4" fill="none" />
<path d="M517.5,86 a5.3,4.38 0 0 1 0,8.75 a5.3,4.38 0 0 1 0,8.75 a5.3,4.38 0 0 1 0,8.75 a5.3,4.38 0 0 1 0,8.75 " stroke="#15222f" stroke-width="1.4" fill="none" />
<path d="M517.5,121 V176.5" stroke="#15222f" stroke-width="1.4" fill="none" />
<path d="M518,104.5 H588" stroke="#42617e" stroke-width="1.0" fill="none" stroke-dasharray="12.6 7"/>
<path d="M559.5,87 V72.5 H641.5 V176.5" stroke="#15222f" stroke-width="1.4" fill="none" />
<circle cx="559.5" cy="87" r="3.2" fill="#000"/>
<circle cx="600" cy="87" r="3.2" fill="#000"/>
<circle cx="579.5" cy="122" r="3.2" fill="#000"/>
<path d="M579.5,122 L596.5,92" stroke="#15222f" stroke-width="1.4" fill="none" />
<path d="M600,87 L591.8,93.5 L597.6,96.8 Z" fill="#15222f"/>
<path d="M579.5,122 V176.5" stroke="#15222f" stroke-width="1.4" fill="none" />
<path d="M450.0,171.5 L455.5,177 L461.0,171.5" stroke="#15222f" stroke-width="1.3" fill="none" />
<path d="M448.8,183.70000000000002 C451.0,186.3 453.0,187.3 455.5,187.3 C458.0,187.3 460.0,186.3 462.2,183.70000000000002" stroke="#111" stroke-width="1.3" fill="none" />
<path d="M512.0,171.5 L517.5,177 L523.0,171.5" stroke="#15222f" stroke-width="1.3" fill="none" />
<path d="M510.8,183.70000000000002 C513.0,186.3 515.0,187.3 517.5,187.3 C520.0,187.3 522.0,186.3 524.2,183.70000000000002" stroke="#111" stroke-width="1.3" fill="none" />
<path d="M574.0,171.5 L579.5,177 L585.0,171.5" stroke="#15222f" stroke-width="1.3" fill="none" />
<path d="M572.8,183.70000000000002 C575.0,186.3 577.0,187.3 579.5,187.3 C582.0,187.3 584.0,186.3 586.2,183.70000000000002" stroke="#111" stroke-width="1.3" fill="none" />
<path d="M636.0,171.5 L641.5,177 L647.0,171.5" stroke="#15222f" stroke-width="1.3" fill="none" />
<path d="M634.8,183.70000000000002 C637.0,186.3 639.0,187.3 641.5,187.3 C644.0,187.3 646.0,186.3 648.2,183.70000000000002" stroke="#111" stroke-width="1.3" fill="none" />
<rect x="452.9" y="187" width="3.2" height="103.5" fill="#ffe27a"/>
<rect x="455.5" y="187" width="1.4" height="103.5" fill="#a8782a"/>
<path d="M517.5,188 V373 H1137.3 V280" stroke="#e2f5d8" stroke-width="4.2" fill="none" />
<path d="M517.5,188 V373 H1137.3 V280" stroke="#4a8a30" stroke-width="2.6" fill="none" />
<path d="M580.2,188 V310 H723.6 V146.5" stroke="#dff3d4" stroke-width="3.2" fill="none" />
<path d="M580.2,188 V310 H723.6 V146.5" stroke="#86ad74" stroke-width="1.4" fill="none" />
<path d="M641.6,188 V414 H755.5" stroke="#e2f5d8" stroke-width="4.2" fill="none" />
<path d="M641.6,188 V414 H755.5" stroke="#4a8a30" stroke-width="2.6" fill="none" />
<text transform="translate(451,197.5) rotate(-90)" text-anchor="start" font-size="12.65" fill="#1c1c1c">9</text>
<text transform="translate(451,260) rotate(-90)" text-anchor="start" font-size="12.65" fill="#1c1c1c">ЖЁЛ-КРА</text>
<text transform="translate(513,197.5) rotate(-90)" text-anchor="start" font-size="12.65" fill="#1c1c1c">8</text>
<text transform="translate(513,259) rotate(-90)" text-anchor="start" font-size="12.65" fill="#1c1c1c">ЗЕЛ-ЧЁР</text>
<text transform="translate(575,197.5) rotate(-90)" text-anchor="start" font-size="12.65" fill="#1c1c1c">7</text>
<text transform="translate(575,257) rotate(-90)" text-anchor="start" font-size="12.65" fill="#1c1c1c">БЕЛ-ЗЕЛ</text>
<text transform="translate(637,197.5) rotate(-90)" text-anchor="start" font-size="12.65" fill="#1c1c1c">6</text>
<text transform="translate(637,259) rotate(-90)" text-anchor="start" font-size="12.65" fill="#1c1c1c">ЗЕЛ-ЧЁР</text>
<text transform="translate(473,285.5) rotate(-90)" text-anchor="start" font-size="12.65" fill="#1c1c1c">B181</text>
<text transform="translate(451,285.5) rotate(-90)" text-anchor="start" font-size="12.65" fill="#1c1c1c">1</text>
<path d="M448.8,294.0 C451.0,291.4 453.0,290.4 455.5,290.4 C458.0,290.4 460.0,291.4 462.2,294.0" stroke="#111" stroke-width="1.3" fill="none" />
<path d="M448.8,301.0 C451.0,298.4 453.0,297.4 455.5,297.4 C458.0,297.4 460.0,298.4 462.2,301.0" stroke="#111" stroke-width="1.3" fill="none" />
<rect x="453.8" y="298.5" width="3" height="109" fill="#6a7c2c"/>
<rect x="456.6" y="298.5" width="0.9" height="109" fill="#f2c890"/>
<path d="M448.8,404.0 C451.0,406.6 453.0,407.6 455.5,407.6 C458.0,407.6 460.0,406.6 462.2,404.0" stroke="#111" stroke-width="1.3" fill="none" />
<path d="M448.8,410.79999999999995 C451.0,413.4 453.0,414.4 455.5,414.4 C458.0,414.4 460.0,413.4 462.2,410.79999999999995" stroke="#111" stroke-width="1.3" fill="none" />
<text transform="translate(473,337) rotate(-90)" text-anchor="start" font-size="12.65" fill="#1c1c1c">B182</text>
<text transform="translate(451,381.5) rotate(-90)" text-anchor="start" font-size="12.65" fill="#1c1c1c">ЗЕЛ-КРА</text>
<text transform="translate(473,397) rotate(-90)" text-anchor="start" font-size="12.65" fill="#1c1c1c">B182</text>
<text transform="translate(451,428) rotate(-90)" text-anchor="start" font-size="12.65" fill="#1c1c1c">2</text>
<text transform="translate(473,447) rotate(-90)" text-anchor="start" font-size="12.65" fill="#1c1c1c">B181</text>
<text transform="translate(451,469) rotate(-90)" text-anchor="start" font-size="12.65" fill="#1c1c1c">ЧЁР</text>
<path d="M455.8,415 V476 H395" stroke="#505050" stroke-width="2.4" fill="none" />
<path d="M390.9,469 C393.5,471.2 394.5,473.5 394.5,476 C394.5,478.5 393.5,480.8 390.9,483" stroke="#111" stroke-width="1.3" fill="none" />
<rect x="339.5" y="455.5" width="46.5" height="40.5" fill="#d6e8fb" stroke="#3a434e" stroke-width="1.5" stroke-dasharray="7 4.5"/>
<path d="M340.5,476 H385" stroke="#15222f" stroke-width="1.3" fill="none" />
<path d="M346,470.5 L340.5,476 L346,481.5" stroke="#15222f" stroke-width="1.3" fill="none" />
<path d="M379.5,470.5 L385,476 L379.5,481.5" stroke="#15222f" stroke-width="1.3" fill="none" />
<path d="M335.1,469 C332.5,471.2 331.5,473.5 331.5,476 C331.5,478.5 332.5,480.8 335.1,483" stroke="#111" stroke-width="1.3" fill="none" />
<path d="M331,476 H280" stroke="#505050" stroke-width="2.4" fill="none" />
<circle cx="269.8" cy="476" r="4.2" fill="#000"/>
<path d="M259.5,476 H150" stroke="#505050" stroke-width="2.4" fill="none" stroke-dasharray="12.7 6.6"/>
<circle cx="146" cy="476" r="4.2" fill="#000"/>
<path d="M141.7,468 V484" stroke="#111" stroke-width="1.5" fill="none" />
<path d="M135.5,473.5 V478.5" stroke="#111" stroke-width="1.3" fill="none" />
<text x="124.5" y="479.7" text-anchor="end" font-size="12.65" fill="#1c1c1c">GB-5</text>
<text x="125" y="495.3" text-anchor="end" font-size="12.65" fill="#1c1c1c">(ЛЕВ БОК</text>
<text x="125.5" y="510.7" text-anchor="end" font-size="12.65" fill="#1c1c1c">ЧАСТЬ ТОРП)</text>
<text x="310.5" y="471" text-anchor="middle" font-size="12.65" fill="#1c1c1c">ЧЁР</text>
<text x="413.5" y="471" text-anchor="middle" font-size="12.65" fill="#1c1c1c">ЧЁР</text>
<text x="228" y="471" text-anchor="middle" font-size="12.65" fill="#1c1c1c">ЧЁР</text>
<text x="359.5" y="512.6" text-anchor="middle" font-size="12.65" fill="#1c1c1c">J/C B371</text>
<text x="358.5" y="528" text-anchor="middle" font-size="12.65" fill="#1c1c1c">(ЛЕВА СТОР</text>
<text x="358.5" y="542.7" text-anchor="middle" font-size="12.65" fill="#1c1c1c">ПРИБ ПАНЕ)</text>
<text x="765" y="34.5" text-anchor="middle" font-size="12.65" fill="#1c1c1c">(ЛЕВ БОК</text>
<text x="765" y="50" text-anchor="middle" font-size="12.65" fill="#1c1c1c">ЧАСТЬ ТОРП)</text>
<text x="765" y="65.2" text-anchor="middle" font-size="12.65" fill="#1c1c1c">СТЕКЛОПОДЪЕМН</text>
<text x="765" y="80.5" text-anchor="middle" font-size="12.65" fill="#1c1c1c">ПРЕРЫВАТЕЛЯ ЦЕПИ</text>
<rect x="713" y="88.5" width="105.5" height="49.5" fill="#d4e6f9" stroke="#15222f" stroke-width="1.4"/>
<path d="M724,137.5 V104.5 H748 M783,104.5 H806.5 V137.5" stroke="#15222f" stroke-width="1.4" fill="none" />
<path d="M748,104.5 Q765.5,87 783,104.5" stroke="#15222f" stroke-width="1.4" fill="none" />
<circle cx="748" cy="104.5" r="3.2" fill="#000"/>
<circle cx="783" cy="104.5" r="3.2" fill="#000"/>
<text x="762" y="127" text-anchor="middle" font-size="12.65" fill="#1c1c1c">N/A</text>
<path d="M718.5,132.5 L724,138 L729.5,132.5" stroke="#15222f" stroke-width="1.3" fill="none" />
<path d="M801.0,132.5 L806.5,138 L812.0,132.5" stroke="#15222f" stroke-width="1.3" fill="none" />
<path d="M717.3,141.9 C719.5,144.5 721.5,145.5 724,145.5 C726.5,145.5 728.5,144.5 730.7,141.9" stroke="#111" stroke-width="1.3" fill="none" />
<path d="M799.8,141.9 C802.0,144.5 804.0,145.5 806.5,145.5 C809.0,145.5 811.0,144.5 813.2,141.9" stroke="#111" stroke-width="1.3" fill="none" />
<path d="M725,146.5 L745.6,166.5 V310 H929" stroke="#dff3d4" stroke-width="3.2" fill="none" />
<path d="M725,146.5 L745.6,166.5 V310 H929" stroke="#86ad74" stroke-width="1.4" fill="none" />
<path d="M725,146.5 L764.6,166.8 V291 H929" stroke="#dff3d4" stroke-width="3.2" fill="none" />
<path d="M725,146.5 L764.6,166.8 V291 H929" stroke="#86ad74" stroke-width="1.4" fill="none" />
<path d="M806.8,146 V269 H909.8 V258.8" stroke="#505050" stroke-width="2.4" fill="none" />
<text transform="translate(719.5,152.5) rotate(-90)" text-anchor="start" font-size="12.65" fill="#1c1c1c">1</text>
<text transform="translate(719.5,223) rotate(-90)" text-anchor="start" font-size="12.65" fill="#1c1c1c">БЕЛ-ЗЕЛ</text>
<text transform="translate(740.5,223) rotate(-90)" text-anchor="start" font-size="12.65" fill="#1c1c1c">БЕЛ-ЗЕЛ</text>
<text transform="translate(761.5,223.5) rotate(-90)" text-anchor="start" font-size="12.65" fill="#1c1c1c">БЕЛ-ЗЕЛ</text>
<text transform="translate(802,153.5) rotate(-90)" text-anchor="start" font-size="12.65" fill="#1c1c1c">2</text>
<text transform="translate(802,225.5) rotate(-90)" text-anchor="start" font-size="12.65" fill="#1c1c1c">ЧЁР-БЕЛ</text>
<path d="M930.5,283.5 L943,291 L930.5,298 Z" fill="#000"/>
<path d="M930.5,303.5 L943,311 L930.5,318 Z" fill="#000"/>
<text x="948" y="289.6" text-anchor="start" font-size="12.65" fill="#1c1c1c">БЛОК</text>
<text x="948" y="305" text-anchor="start" font-size="12.65" fill="#1c1c1c">ПРЕД И</text>
<text x="948" y="320.1" text-anchor="start" font-size="12.65" fill="#1c1c1c">РЕЛЕ</text>
<text x="886" y="20" text-anchor="start" font-size="12.65" fill="#1c1c1c">НАПРЯЖ</text>
<text x="876.5" y="35.7" text-anchor="start" font-size="12.65" fill="#1c1c1c">ОТ АККУМ</text>
<rect x="873.6" y="43" width="108.4" height="93" fill="#d6e8fb" stroke="#3a434e" stroke-width="1.5" stroke-dasharray="12.5 6.5"/>
<path d="M910,43 V76 M910,99.7 V135.5" stroke="#15222f" stroke-width="1.4" fill="none" />
<path d="M910,76 C917,80 915,84 910,88 C905,92 903,96 910,99.7" stroke="#15222f" stroke-width="1.4" fill="none" />
<circle cx="910" cy="76" r="3.1" fill="#000"/>
<circle cx="910" cy="99.7" r="3.1" fill="#000"/>
<path d="M904.5,130.5 L910,136 L915.5,130.5" stroke="#15222f" stroke-width="1.3" fill="none" />
<text x="920.5" y="78.7" text-anchor="start" font-size="12.65" fill="#1c1c1c">SBF 4</text>
<text x="920.5" y="94.4" text-anchor="start" font-size="12.65" fill="#1c1c1c">ПРЕДОХ</text>
<text x="920.5" y="110.2" text-anchor="start" font-size="12.65" fill="#1c1c1c">30A</text>
<text x="985" y="50.1" text-anchor="start" font-size="12.65" fill="#1c1c1c">БЛОК ГЛАВ</text>
<text x="985" y="65.55" text-anchor="start" font-size="12.65" fill="#1c1c1c">ПРЕДО</text>
<text x="985" y="81.0" text-anchor="start" font-size="12.65" fill="#1c1c1c">(М/Б)</text>
<text x="985" y="96.44999999999999" text-anchor="start" font-size="12.65" fill="#1c1c1c">(ЛЕВ</text>
<text x="985" y="111.9" text-anchor="start" font-size="12.65" fill="#1c1c1c">СТОР</text>
<text x="985" y="127.35" text-anchor="start" font-size="12.65" fill="#1c1c1c">МОТОР</text>
<text x="985" y="142.79999999999998" text-anchor="start" font-size="12.65" fill="#1c1c1c">ОТСЕКА)</text>
<path d="M903.3,141.9 C905.5,144.5 907.5,145.5 910,145.5 C912.5,145.5 914.5,144.5 916.7,141.9" stroke="#111" stroke-width="1.3" fill="none" />
<path d="M910,146 V236" stroke="#505050" stroke-width="2.4" fill="none" stroke-dasharray="12.5 7"/>
<circle cx="910" cy="248.8" r="4.2" fill="#000"/>
<text transform="translate(905.5,154) rotate(-90)" text-anchor="start" font-size="12.65" fill="#1c1c1c">4</text>
<text transform="translate(927,175) rotate(-90)" text-anchor="start" font-size="12.65" fill="#1c1c1c">B145</text>
<text transform="translate(906,225.5) rotate(-90)" text-anchor="start" font-size="12.65" fill="#1c1c1c">ЧЁР-БЕЛ</text>
<text x="1104" y="20.5" text-anchor="start" font-size="12.65" fill="#1c1c1c">НАПРЯЖ ЗАЖ</text>
<text x="1104.5" y="36" text-anchor="start" font-size="12.65" fill="#1c1c1c">ВКЛ ИЛИ СТАРТ</text>
<rect x="1106.6" y="42.8" width="106.4" height="92.9" fill="#d6e8fb" stroke="#3a434e" stroke-width="1.5" stroke-dasharray="12.5 6.5"/>
<path d="M1137.2,42.8 V84.8 M1137.2,108.8 V135" stroke="#15222f" stroke-width="1.4" fill="none" />
<path d="M1137.2,84.8 C1144,89 1142,93 1137.2,96.8 C1132,100.5 1130,104.5 1137.2,108.8" stroke="#15222f" stroke-width="1.4" fill="none" />
<circle cx="1137.2" cy="84.8" r="3.1" fill="#000"/>
<circle cx="1137.2" cy="108.8" r="3.1" fill="#000"/>
<path d="M1131.7,130.2 L1137.2,135.7 L1142.7,130.2" stroke="#15222f" stroke-width="1.3" fill="none" />
<text x="1148.5" y="92.9" text-anchor="start" font-size="12.65" fill="#1c1c1c">ПРЕД</text>
<text x="1148.5" y="107.8" text-anchor="start" font-size="12.65" fill="#1c1c1c">7.5A</text>
<text x="1219" y="52.9" text-anchor="start" font-size="12.65" fill="#1c1c1c">ПРЕДОХ,</text>
<text x="1219" y="68.2" text-anchor="start" font-size="12.65" fill="#1c1c1c">БЛОК РЕЛЕ</text>
<text x="1219" y="83.5" text-anchor="start" font-size="12.65" fill="#1c1c1c">(Ф/Б)</text>
<text x="1219" y="98.80000000000001" text-anchor="start" font-size="12.65" fill="#1c1c1c">(ЛЕВ БОК</text>
<text x="1219" y="114.1" text-anchor="start" font-size="12.65" fill="#1c1c1c">ЧАСТЬ ТОРП)</text>
<path d="M1130.5,141.9 C1132.7,144.5 1134.7,145.5 1137.2,145.5 C1139.7,145.5 1141.7,144.5 1143.9,141.9" stroke="#111" stroke-width="1.3" fill="none" />
<path d="M1137.3,150.5 V260" stroke="#4a8a30" stroke-width="2.8" fill="none" stroke-dasharray="12 7.6"/>
<circle cx="1137.3" cy="269.7" r="4.2" fill="#000"/>
<text transform="translate(1129.5,155) rotate(-90)" text-anchor="start" font-size="12.65" fill="#1c1c1c">4</text>
<text transform="translate(1153,177) rotate(-90)" text-anchor="start" font-size="12.65" fill="#1c1c1c">B152</text>
<text transform="translate(1131.5,234) rotate(-90)" text-anchor="start" font-size="12.65" fill="#1c1c1c">ЗЕЛ-ЧЁР</text>
<text transform="translate(1131.5,350) rotate(-90)" text-anchor="start" font-size="12.65" fill="#1c1c1c">ЗЕЛ-ЧЁР</text>
<path d="M765.9,414.2 H1054" stroke="#6e6e6e" stroke-width="1.3" fill="none" stroke-dasharray="12.4 6.9"/>
<circle cx="765.3" cy="414.2" r="4.3" fill="#000"/>
<circle cx="1013.2" cy="414.2" r="4.3" fill="#000"/>
<circle cx="1054.4" cy="414.2" r="4.3" fill="#000"/>
<path d="M765.6,424.5 V570" stroke="#e2f5d8" stroke-width="4.2" fill="none" />
<path d="M765.6,424.5 V570" stroke="#4a8a30" stroke-width="2.6" fill="none" />
<path d="M1013.2,424.5 V570" stroke="#e2f5d8" stroke-width="4.2" fill="none" />
<path d="M1013.2,424.5 V570" stroke="#4a8a30" stroke-width="2.6" fill="none" />
<path d="M1054.5,424.5 V570" stroke="#e2f5d8" stroke-width="4.2" fill="none" />
<path d="M1054.5,424.5 V570" stroke="#4a8a30" stroke-width="2.6" fill="none" />
<path d="M1064.4,414.2 H1096 V538 H1302" stroke="#e2f5d8" stroke-width="4.2" fill="none" />
<path d="M1064.4,414.2 H1096 V538 H1302" stroke="#4a8a30" stroke-width="2.6" fill="none" />
<path d="M1313,538 H1467" stroke="#e2f5d8" stroke-width="4.2" fill="none" />
<path d="M1313,538 H1467" stroke="#4a8a30" stroke-width="2.6" fill="none" />
<path d="M1306.1,531 C1303.5,533.2 1302.5,535.5 1302.5,538 C1302.5,540.5 1303.5,542.8 1306.1,545" stroke="#111" stroke-width="1.3" fill="none" />
<path d="M1313.1,531 C1310.5,533.2 1309.5,535.5 1309.5,538 C1309.5,540.5 1310.5,542.8 1313.1,545" stroke="#111" stroke-width="1.3" fill="none" />
<text transform="translate(762,482) rotate(-90)" text-anchor="start" font-size="12.65" fill="#1c1c1c">ЗЕЛ-ЧЁР</text>
<text transform="translate(1009,482.5) rotate(-90)" text-anchor="start" font-size="12.65" fill="#1c1c1c">ЗЕЛ-ЧЁР</text>
<text transform="translate(1050,482.5) rotate(-90)" text-anchor="start" font-size="12.65" fill="#1c1c1c">ЗЕЛ-ЧЁР</text>
<text transform="translate(1092,482.5) rotate(-90)" text-anchor="start" font-size="12.65" fill="#1c1c1c">ЗЕЛ-ЧЁР</text>
<text x="1212.5" y="533.6" text-anchor="start" font-size="12.65" fill="#1c1c1c">ЗЕЛ-ЧЁР</text>
<text x="1285" y="533.6" text-anchor="start" font-size="12.65" fill="#1c1c1c">12</text>
<text x="1276" y="557" text-anchor="start" font-size="12.65" fill="#1c1c1c">B99</text>
<text x="1319.5" y="557" text-anchor="start" font-size="12.65" fill="#1c1c1c">R3</text>
<text x="1406" y="533.6" text-anchor="start" font-size="12.65" fill="#1c1c1c">ЗЕЛ-ЧЁР</text>
<text x="1482.5" y="544" text-anchor="start" font-size="12.65" fill="#1c1c1c">1</text>
</svg></div>
</body></html>
